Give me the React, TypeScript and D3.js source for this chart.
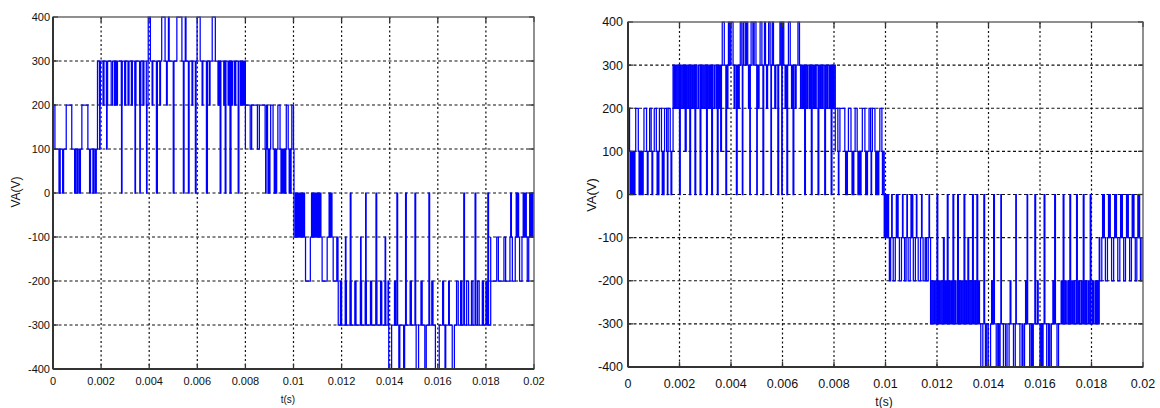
import React from "react";
import * as d3 from "d3";

// ---- axis ticks (time in ms, voltage in V) ----
const xTickValues = [0, 2, 4, 6, 8, 10, 12, 14, 16, 18, 20];
const xTickLabels = ["0", "0.002", "0.004", "0.006", "0.008", "0.01", "0.012", "0.014", "0.016", "0.018", "0.02"];
const yTickValues = [-400, -300, -200, -100, 0, 100, 200, 300, 400];
const yTickLabels = ["-400", "-300", "-200", "-100", "0", "100", "200", "300", "400"];

type Seg = [number, number, number]; // [start ms, end ms, level V]

// ---- left figure: base level of each band ----
const leftBase: Seg[] = [
  [0, 1.85, 100], [1.85, 3.95, 200], [3.95, 6.8, 300], [6.8, 8.0, 300], [8.0, 10.02, 100],
  [10.02, 11.85, -100], [11.85, 13.95, -200], [13.95, 16.7, -300], [16.7, 18.2, -300], [18.2, 20, -100],
];
// ---- left figure: switching pulses ----
const leftPulses: Seg[] = [
  [0, 0.08, 200], [0.25, 0.3, 0], [0.4, 0.44, 0], [0.55, 0.78, 200], [0.9, 0.94, 0], [1.0, 1.04, 0], [1.1, 1.14, 0],
  [1.2, 1.45, 200], [1.52, 1.56, 0], [1.66, 1.7, 0], [1.76, 1.8, 0],
  [1.85, 1.93, 300], [1.94, 1.96, 100], [1.97, 2.08, 300], [2.12, 2.22, 300], [2.23, 2.25, 100], [2.27, 2.42, 300],
  [2.48, 2.56, 300], [2.6, 2.64, 300], [2.68, 2.84, 300], [2.85, 2.87, 0], [2.88, 2.98, 300], [3.02, 3.12, 300],
  [3.16, 3.26, 300], [3.3, 3.4, 300], [3.41, 3.43, 0], [3.45, 3.6, 300], [3.61, 3.63, 0], [3.65, 3.74, 300],
  [3.78, 3.88, 300], [3.89, 3.91, 0],
  [3.96, 4.05, 400], [4.12, 4.15, 200], [4.3, 4.34, 0], [4.44, 4.47, 200], [4.52, 4.66, 400], [4.72, 4.75, 200],
  [4.8, 4.83, 400], [5.0, 5.03, 0], [5.15, 5.36, 400], [5.42, 5.45, 0], [5.5, 5.53, 400], [5.63, 5.66, 0],
  [5.78, 5.81, 200], [5.92, 5.95, 0], [5.99, 6.12, 400], [6.2, 6.23, 200], [6.38, 6.42, 0], [6.5, 6.53, 200],
  [6.62, 6.75, 400],
  [6.86, 6.9, 200], [6.95, 6.98, 0], [7.1, 7.13, 200], [7.16, 7.19, 0], [7.28, 7.32, 200], [7.36, 7.4, 0],
  [7.43, 7.47, 200], [7.55, 7.6, 200], [7.7, 7.73, 0], [7.8, 7.84, 200], [7.88, 7.9, 200], [7.94, 7.97, 200],
  [8.0, 8.2, 200], [8.26, 8.5, 200], [8.58, 8.82, 200], [8.84, 8.86, 0], [8.88, 8.92, 200], [8.94, 8.96, 0],
  [9.0, 9.02, 0], [9.05, 9.15, 200], [9.2, 9.23, 0], [9.27, 9.3, 0], [9.35, 9.44, 200], [9.48, 9.52, 0],
  [9.55, 9.57, 0], [9.6, 9.63, 0], [9.66, 9.68, 0], [9.7, 9.78, 200], [9.82, 9.85, 0], [9.88, 9.9, 0],
  [9.93, 10.0, 200],
  [10.08, 10.12, 0], [10.16, 10.2, 0], [10.25, 10.3, 0], [10.35, 10.38, 0], [10.42, 10.46, 0], [10.5, 10.7, -200],
  [10.75, 10.8, 0], [10.85, 10.9, 0], [10.95, 10.98, 0], [11.02, 11.06, 0], [11.1, 11.14, 0], [11.19, 11.4, -200],
  [11.48, 11.5, 0], [11.55, 11.6, 0], [11.65, 11.8, -200],
  [11.86, 11.95, -300], [12.0, 12.15, -300], [12.16, 12.18, -100], [12.2, 12.35, -300], [12.36, 12.39, 0],
  [12.4, 12.55, -300], [12.6, 12.78, -300], [12.79, 12.81, -100], [12.83, 12.98, -300], [13.0, 13.02, 0],
  [13.03, 13.2, -300], [13.25, 13.42, -300], [13.43, 13.46, 0], [13.47, 13.62, -300], [13.67, 13.8, -300],
  [13.81, 13.83, -100], [13.84, 13.93, -300],
  [13.96, 14.08, -400], [14.2, 14.24, -200], [14.3, 14.33, 0], [14.38, 14.42, -400], [14.58, 14.62, -400],
  [14.66, 14.69, 0], [14.85, 14.9, -200], [15.05, 15.08, 0], [15.1, 15.2, -400], [15.3, 15.35, -200],
  [15.46, 15.52, -400], [15.63, 15.66, 0], [15.75, 15.8, -200], [15.9, 16.06, -400], [16.2, 16.24, -200],
  [16.3, 16.33, -400], [16.45, 16.48, -200], [16.6, 16.69, -400],
  [16.78, 16.85, -200], [16.95, 17.0, -200], [17.08, 17.11, 0], [17.2, 17.28, -200], [17.4, 17.46, -200],
  [17.55, 17.58, 0], [17.65, 17.72, -200], [17.85, 17.9, -200], [18.0, 18.04, -200], [18.08, 18.11, 0],
  [18.2, 18.45, -200], [18.52, 18.75, -200], [18.82, 19.0, -200], [19.03, 19.06, 0], [19.1, 19.22, -200],
  [19.26, 19.3, 0], [19.33, 19.36, 0], [19.4, 19.5, -200], [19.55, 19.58, 0], [19.6, 19.63, 0], [19.65, 19.68, 0],
  [19.72, 19.78, -200], [19.82, 19.85, 0], [19.88, 19.9, 0], [19.93, 19.96, 0],
];

// ---- right figure: base level of each band ----
const rightBase: Seg[] = [
  [0, 1.75, 100], [1.75, 3.65, 300], [3.65, 6.75, 300], [6.75, 8.05, 300], [8.05, 9.95, 100],
  [9.95, 11.75, -100], [11.75, 13.68, -300], [13.68, 16.78, -300], [16.78, 18.3, -300], [18.3, 20, -100],
];
// ---- right figure: switching pulses ----
const rightPulses: Seg[] = [
  [0, 0.06, 200], [0.08, 0.1, 0], [0.13, 0.16, 0], [0.19, 0.22, 0], [0.25, 0.27, 0], [0.3, 0.4, 200], [0.43, 0.46, 0],
  [0.5, 0.53, 0], [0.56, 0.59, 0], [0.62, 0.72, 200], [0.75, 0.78, 0], [0.84, 0.9, 200], [0.93, 0.96, 0],
  [1.02, 1.1, 200], [1.13, 1.16, 0], [1.18, 1.2, 0], [1.22, 1.3, 200], [1.33, 1.36, 0], [1.38, 1.4, 0],
  [1.42, 1.5, 200], [1.53, 1.55, 0], [1.56, 1.64, 200], [1.67, 1.7, 0],
  [1.8, 1.85, 200], [1.9, 1.95, 200], [2.0, 2.03, 0], [2.05, 2.1, 200], [2.15, 2.2, 200], [2.22, 2.26, 100],
  [2.3, 2.35, 200], [2.4, 2.43, 0], [2.45, 2.5, 200], [2.55, 2.58, 200], [2.6, 2.63, 0], [2.68, 2.74, 200],
  [2.8, 2.83, 0], [2.85, 2.9, 200], [2.95, 3.0, 200], [3.05, 3.08, 0], [3.1, 3.15, 200], [3.18, 3.22, 200],
  [3.25, 3.28, 0], [3.3, 3.36, 200], [3.42, 3.45, 200], [3.47, 3.5, 0], [3.52, 3.56, 200], [3.6, 3.63, 100],
  [3.66, 3.74, 400], [3.8, 3.83, 0], [3.86, 3.88, 200], [3.9, 3.95, 400], [4.0, 4.08, 400], [4.12, 4.15, 200],
  [4.21, 4.24, 0], [4.28, 4.32, 200], [4.36, 4.42, 400], [4.44, 4.46, 0], [4.48, 4.55, 400], [4.6, 4.65, 400],
  [4.68, 4.71, 200], [4.73, 4.75, 0], [4.78, 4.85, 400], [4.9, 4.97, 400], [5.0, 5.02, 0], [5.06, 5.09, 200],
  [5.13, 5.2, 400], [5.24, 5.27, 0], [5.3, 5.34, 400], [5.38, 5.42, 200], [5.46, 5.52, 400], [5.55, 5.57, 0],
  [5.6, 5.65, 400], [5.7, 5.74, 200], [5.82, 5.85, 0], [5.9, 5.95, 400], [5.97, 5.99, 0], [6.0, 6.05, 400],
  [6.1, 6.13, 200], [6.17, 6.2, 0], [6.23, 6.3, 400], [6.35, 6.38, 200], [6.41, 6.44, 0], [6.5, 6.53, 200],
  [6.6, 6.66, 400], [6.7, 6.73, 200],
  [6.78, 6.82, 200], [6.86, 6.89, 0], [6.94, 6.98, 200], [7.04, 7.08, 200], [7.12, 7.15, 0], [7.2, 7.24, 200],
  [7.28, 7.31, 200], [7.38, 7.41, 0], [7.46, 7.5, 200], [7.55, 7.58, 200], [7.64, 7.67, 0], [7.72, 7.76, 200],
  [7.82, 7.85, 200], [7.89, 7.92, 0], [7.96, 8.0, 200],
  [8.05, 8.15, 200], [8.17, 8.19, 0], [8.23, 8.42, 200], [8.45, 8.47, 0], [8.5, 8.52, 0], [8.56, 8.66, 200],
  [8.7, 8.72, 0], [8.75, 8.77, 0], [8.82, 8.9, 200], [8.93, 8.95, 0], [8.98, 9.0, 0], [9.03, 9.05, 0],
  [9.1, 9.2, 200], [9.23, 9.25, 0], [9.28, 9.3, 0], [9.36, 9.42, 200], [9.44, 9.46, 0], [9.49, 9.59, 200],
  [9.62, 9.64, 0], [9.67, 9.69, 0], [9.72, 9.74, 0], [9.78, 9.86, 200], [9.88, 9.9, 0],
  [9.98, 10.0, 0], [10.04, 10.06, 0], [10.1, 10.12, 0], [10.15, 10.2, -200], [10.24, 10.26, 0], [10.3, 10.38, -200],
  [10.42, 10.44, 0], [10.47, 10.49, 0], [10.54, 10.62, -200], [10.66, 10.68, 0], [10.74, 10.8, -200],
  [10.83, 10.85, 0], [10.88, 10.96, -200], [10.99, 11.01, 0], [11.04, 11.06, 0], [11.08, 11.16, -200],
  [11.2, 11.22, 0], [11.27, 11.36, -200], [11.4, 11.42, 0], [11.46, 11.54, -200], [11.59, 11.66, -200],
  [11.69, 11.71, 0],
  [11.8, 11.85, -200], [11.9, 11.95, -200], [12.0, 12.03, 0], [12.06, 12.1, -200], [12.15, 12.2, -200],
  [12.25, 12.28, -100], [12.32, 12.36, -200], [12.4, 12.43, 0], [12.47, 12.5, -200], [12.55, 12.58, -200],
  [12.62, 12.65, 0], [12.7, 12.74, -200], [12.8, 12.83, 0], [12.86, 12.9, -200], [12.95, 13.0, -200],
  [13.05, 13.08, 0], [13.1, 13.15, -200], [13.2, 13.23, -100], [13.28, 13.33, -200], [13.38, 13.41, 0],
  [13.45, 13.5, -200], [13.55, 13.58, 0], [13.61, 13.65, -200],
  [13.7, 13.78, -400], [13.82, 13.85, 0], [13.88, 13.93, -400], [13.99, 14.08, -400], [14.12, 14.15, -200],
  [14.2, 14.23, 0], [14.3, 14.36, -400], [14.4, 14.45, -400], [14.48, 14.5, 0], [14.58, 14.66, -400],
  [14.72, 14.8, -400], [14.84, 14.87, -200], [14.97, 15.04, -400], [15.06, 15.08, 0], [15.22, 15.3, -400],
  [15.34, 15.4, -400], [15.44, 15.47, -200], [15.5, 15.52, 0], [15.6, 15.66, -400], [15.7, 15.74, -400],
  [15.8, 15.83, 0], [15.9, 15.93, -200], [16.0, 16.05, -400], [16.08, 16.12, -400], [16.16, 16.19, 0],
  [16.26, 16.33, -400], [16.38, 16.44, -400], [16.5, 16.53, -200], [16.57, 16.6, 0], [16.66, 16.72, -400],
  [16.82, 16.86, -200], [16.9, 16.93, 0], [16.98, 17.02, -200], [17.08, 17.12, -200], [17.16, 17.19, 0],
  [17.24, 17.28, -200], [17.33, 17.36, -200], [17.42, 17.45, 0], [17.5, 17.54, -200], [17.6, 17.63, -200],
  [17.68, 17.71, 0], [17.76, 17.8, -200], [17.86, 17.9, -200], [17.95, 17.98, 0], [18.04, 18.08, -200],
  [18.14, 18.18, -200], [18.22, 18.26, -200],
  [18.32, 18.4, -200], [18.43, 18.45, 0], [18.48, 18.5, 0], [18.54, 18.62, -200], [18.66, 18.68, 0],
  [18.71, 18.73, 0], [18.78, 18.86, -200], [18.9, 18.92, 0], [18.95, 18.97, 0], [19.02, 19.1, -200],
  [19.13, 19.15, 0], [19.18, 19.2, 0], [19.25, 19.32, -200], [19.36, 19.38, 0], [19.41, 19.43, 0],
  [19.48, 19.55, -200], [19.58, 19.6, 0], [19.63, 19.65, 0], [19.7, 19.76, -200], [19.8, 19.82, 0],
  [19.85, 19.87, 0], [19.9, 19.96, -200],
];

function buildSteps(base: Seg[], pulses: Seg[]): [number, number][] {
  const sorted = [...pulses].sort((a, b) => a[0] - b[0]);
  const pts: [number, number][] = [];
  for (const [s, e, lvl] of base) {
    pts.push([s, lvl]);
    for (const [ps, pe, pl] of sorted) {
      if (ps >= s && ps < e) {
        pts.push([ps, pl]);
        pts.push([pe, lvl]);
      }
    }
  }
  pts.push([20, pts[pts.length - 1][1]]);
  return pts;
}

interface PanelProps {
  x0: number; x1: number; y0: number; y1: number;
  base: Seg[]; pulses: Seg[];
  tickFont: number; xTickY: number; yTickX: number;
  yLabel: string; yLabX: number; yLabY: number; yLabFont: number;
  xLabel: string; xLabX: number; xLabY: number; xLabFont: number;
}

const FONT = "'Liberation Sans', Arial, sans-serif";

function Panel(p: PanelProps) {
  const x = d3.scaleLinear().domain([0, 20]).range([p.x0, p.x1]);
  const y = d3.scaleLinear().domain([-400, 400]).range([p.y1, p.y0]);
  const pts = buildSteps(p.base, p.pulses);
  const line = d3.line<[number, number]>().x((d) => x(d[0])).y((d) => y(d[1])).curve(d3.curveStepAfter);
  const tl = 5;
  return (
    <g>
      {/* grid */}
      {xTickValues.slice(1, -1).map((v) => (
        <line key={"gx" + v} x1={x(v)} x2={x(v)} y1={p.y0} y2={p.y1} stroke="#111" strokeWidth={1.2} strokeDasharray="2,2.5" />
      ))}
      {yTickValues.slice(1, -1).map((v) => (
        <line key={"gy" + v} x1={p.x0} x2={p.x1} y1={y(v)} y2={y(v)} stroke="#111" strokeWidth={1.2} strokeDasharray="3,2.5" />
      ))}
      {/* waveform */}
      <path d={line(pts) || ""} fill="none" stroke="#0000ff" strokeWidth={1.25} />
      {/* ticks */}
      {xTickValues.map((v) => (
        <g key={"tx" + v}>
          <line x1={x(v)} x2={x(v)} y1={p.y1} y2={p.y1 - tl} stroke="#333" strokeWidth={1.3} />
          <line x1={x(v)} x2={x(v)} y1={p.y0} y2={p.y0 + tl} stroke="#333" strokeWidth={1.3} />
        </g>
      ))}
      {yTickValues.map((v) => (
        <g key={"ty" + v}>
          <line x1={p.x0} x2={p.x0 + tl} y1={y(v)} y2={y(v)} stroke="#333" strokeWidth={1.3} />
          <line x1={p.x1} x2={p.x1 - tl} y1={y(v)} y2={y(v)} stroke="#333" strokeWidth={1.3} />
        </g>
      ))}
      {/* frame */}
      <rect x={p.x0} y={p.y0} width={p.x1 - p.x0} height={p.y1 - p.y0} fill="none" stroke="#555" strokeWidth={1.3} />
      <line x1={p.x0} x2={p.x0} y1={p.y0} y2={p.y1} stroke="#333" strokeWidth={2} />
      <line x1={p.x0} x2={p.x1} y1={p.y1} y2={p.y1} stroke="#333" strokeWidth={2} />
      {/* tick labels */}
      {xTickValues.map((v, i) => (
        <text key={"lx" + v} x={x(v)} y={p.xTickY} textAnchor="middle" fontFamily={FONT} fontSize={p.tickFont} fill="#111">
          {xTickLabels[i]}
        </text>
      ))}
      {yTickValues.map((v, i) => (
        <text key={"ly" + v} x={p.yTickX} y={y(v)} dy="0.35em" textAnchor="end" fontFamily={FONT} fontSize={p.tickFont} fill="#111">
          {yTickLabels[i]}
        </text>
      ))}
      {/* axis labels */}
      <text x={p.yLabX} y={p.yLabY} transform={`rotate(-90 ${p.yLabX} ${p.yLabY})`} textAnchor="middle" dy="0.35em"
        fontFamily={FONT} fontSize={p.yLabFont} fill="#111">{p.yLabel}</text>
      <text x={p.xLabX} y={p.xLabY} textAnchor="middle" fontFamily={FONT} fontSize={p.xLabFont} fill="#111">{p.xLabel}</text>
    </g>
  );
}

export default function App() {
  return (
    <div style={{ position: "fixed", left: 0, top: 0 }}>
      <svg width={1160} height={408} style={{ display: "block", background: "#fff" }}>
        <Panel x0={53} x1={534} y0={17} y1={369} base={leftBase} pulses={leftPulses}
          tickFont={11} xTickY={385} yTickX={50}
          yLabel="VA(V)" yLabX={16} yLabY={192} yLabFont={12}
          xLabel="t(s)" xLabX={288} xLabY={403} xLabFont={10} />
        <Panel x0={628} x1={1143} y0={22} y1={367} base={rightBase} pulses={rightPulses}
          tickFont={12.5} xTickY={388} yTickX={623}
          yLabel="VA(V)" yLabX={591} yLabY={195} yLabFont={13}
          xLabel="t(s)" xLabX={884} xLabY={406} xLabFont={12} />
      </svg>
    </div>
  );
}
